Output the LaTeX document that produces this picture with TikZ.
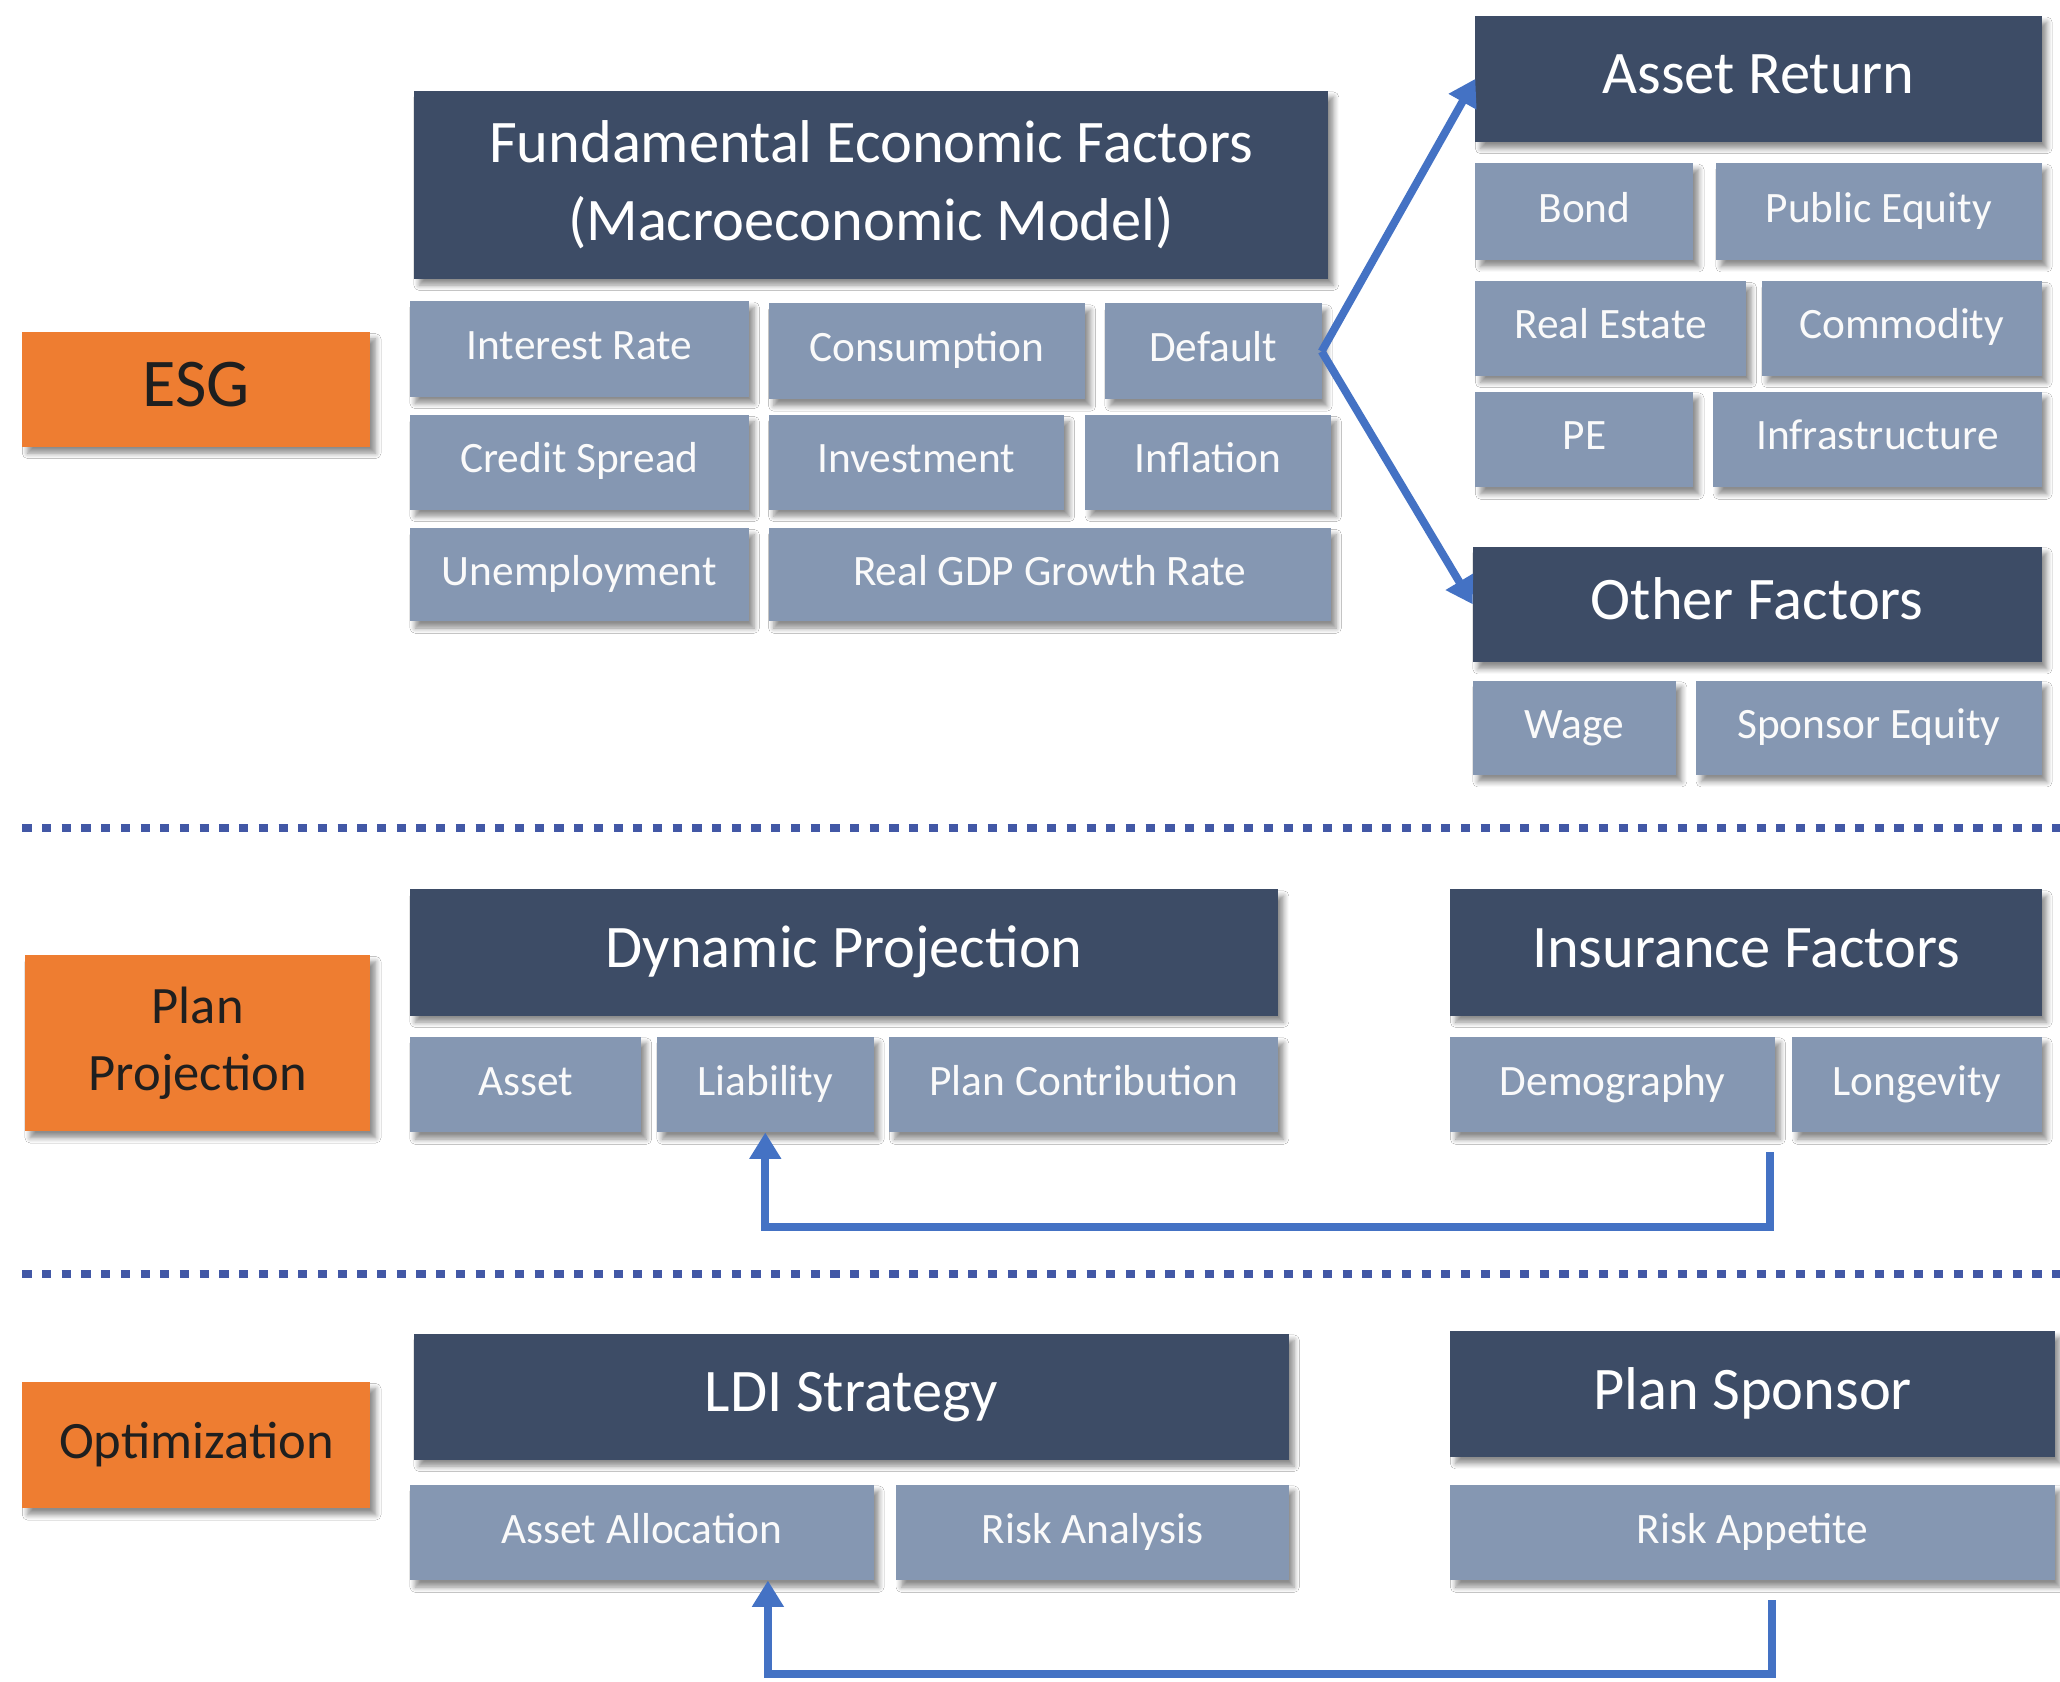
\documentclass[tikz,border=0pt]{standalone}
\usepackage{fontspec}
\setmainfont{Carlito}
\usetikzlibrary{shadows.blur,arrows.meta}
\definecolor{hdr}{HTML}{3D4C66}
\definecolor{subc}{HTML}{8597B2}
\definecolor{org}{HTML}{EE7D31}
\definecolor{arrblue}{HTML}{4472C4}
\definecolor{dotblue}{HTML}{4258A6}
\newcommand\mybox[7]{\node[#1, anchor=north west, minimum width={#5-#3}, minimum height={#6-#4}] (#2) at (#3,#4) {#7};}
\tikzset{
  base/.style={rectangle, inner sep=0pt, outer sep=0pt, align=center,
    blur shadow={shadow xshift=4pt, shadow yshift=-5pt, shadow blur steps=6, shadow blur radius=4pt, shadow opacity=45}},
  hdrbox/.style={base, fill=hdr, text=white, font=\fontsize{46}{59}\selectfont},
  hdr1/.style={hdrbox, text height=32pt, text depth=9pt},
  subbox/.style={base, text height=23pt, text depth=7pt, fill=subc, text=white!96!gray, font=\fontsize{33}{38}\selectfont},
  lblbox/.style={base, fill=org, text=black!88, font=\fontsize{40}{51}\selectfont},
  arr/.style={draw=arrblue, line width=6pt, -{Triangle[length=20pt,width=23pt]}},
  dotl/.style={draw=dotblue, line width=6pt, dash pattern=on 7pt off 8pt},
}
\begin{document}
\begin{tikzpicture}[x=1pt,y=-1pt]
\fill[white] (0,0) rectangle (1568,1280);
\useasboundingbox (0,0) rectangle (1568,1280);
% left labels
\mybox{lblbox, text height=36pt, text depth=10pt, font=\fontsize{52}{60}\selectfont}{esg}{17}{253}{282}{340}{ESG}
\mybox{lblbox}{pp}{19}{727}{282}{861}{Plan\\Projection}
\mybox{lblbox, text height=28pt, text depth=8pt}{opt}{17}{1052}{282}{1148}{Optimization}
% ESG section
\mybox{hdrbox}{fef}{315}{69}{1011}{212}{Fundamental Economic Factors\\(Macroeconomic Model)}
\mybox{subbox}{ir}{312}{229}{570}{302}{Interest Rate}
\mybox{subbox}{cons}{585}{231}{826}{304}{Consumption}
\mybox{subbox}{def}{841}{231}{1006}{304}{Default}
\mybox{subbox}{cs}{312}{316}{570}{388}{Credit Spread}
\mybox{subbox}{inv}{585}{316}{810}{388}{Investment}
\mybox{subbox}{infl}{826}{316}{1013}{388}{Inflation}
\mybox{subbox}{unemp}{312}{402}{570}{473}{Unemployment}
\mybox{subbox}{gdp}{585}{402}{1013}{473}{Real GDP Growth Rate}
\mybox{hdr1}{ar}{1123}{12}{1554}{108}{Asset Return}
\mybox{subbox}{bond}{1123}{124}{1289}{198}{Bond}
\mybox{subbox}{peq}{1306}{124}{1554}{198}{Public Equity}
\mybox{subbox}{re}{1123}{214}{1329}{286}{Real Estate}
\mybox{subbox}{com}{1341}{214}{1554}{286}{Commodity}
\mybox{subbox}{pe}{1123}{298}{1289}{371}{PE}
\mybox{subbox}{infra}{1304}{298}{1554}{371}{Infrastructure}
\mybox{hdr1}{of}{1121}{416}{1554}{504}{Other Factors}
\mybox{subbox}{wage}{1121}{518}{1276}{590}{Wage}
\mybox{subbox}{speq}{1291}{518}{1554}{590}{Sponsor Equity}
\draw[arr] (def.east) -- (ar.west);
\draw[arr] (def.east) -- (of.west);
% separators
\coordinate (d1a) at (17,630); \coordinate (d1b) at (1568,630);
\coordinate (d2a) at (17,970); \coordinate (d2b) at (1568,970);
\draw[dotl] (d1a) -- (d1b);
\draw[dotl] (d2a) -- (d2b);
% Plan projection section
\mybox{hdr1}{dp}{312}{677}{973}{773}{Dynamic Projection}
\mybox{subbox}{asset}{312}{789}{488}{862}{Asset}
\mybox{subbox}{liab}{500}{789}{665}{862}{Liability}
\mybox{subbox}{pc}{677}{789}{973}{862}{Plan Contribution}
\mybox{hdr1}{insf}{1104}{677}{1554}{773}{Insurance Factors}
\mybox{subbox}{demo}{1104}{789}{1351}{862}{Demography}
\mybox{subbox}{long}{1364}{789}{1554}{862}{Longevity}
\coordinate (c1) at (1347,877);
\draw[arr] (c1) -- ++(0,57) -| (liab.south);
% Optimization section
\mybox{hdr1}{ldi}{315}{1015}{981}{1111}{LDI Strategy}
\mybox{subbox}{aa}{312}{1130}{665}{1203}{Asset Allocation}
\mybox{subbox}{ra}{682}{1130}{981}{1203}{Risk Analysis}
\mybox{hdr1}{ps}{1104}{1013}{1564}{1109}{Plan Sponsor}
\mybox{subbox}{rap}{1104}{1130}{1564}{1203}{Risk Appetite}
\coordinate (c2) at (1349,1218);
\draw[arr] (c2) -- ++(0,56) -| ([xshift=96pt]aa.south);
\end{tikzpicture}
\end{document}
